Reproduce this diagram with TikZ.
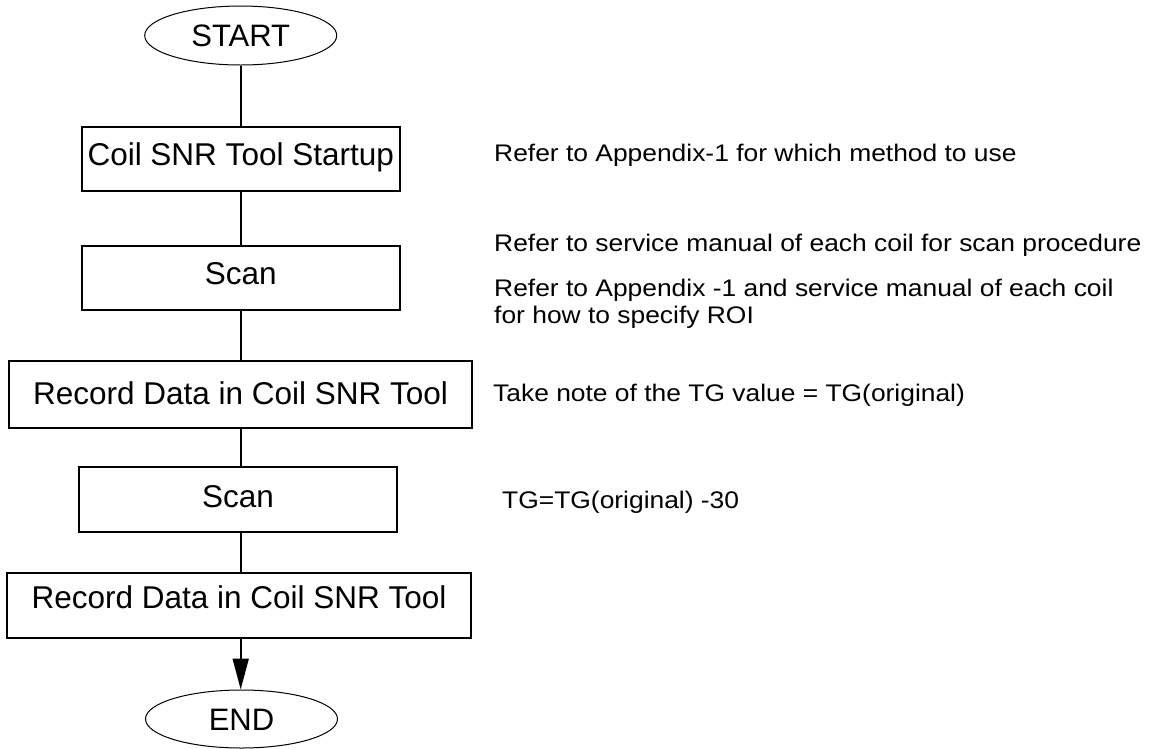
\documentclass[tikz,border=0pt]{standalone}
\usepackage{fontspec}
\setmainfont{Liberation Sans}
\usepackage{graphicx}
\usetikzlibrary{shapes.geometric,arrows.meta}
\newcommand{\hsc}[1]{\scalebox{1.1}[1]{#1}}
\begin{document}
\begin{tikzpicture}[x=1pt,y=-1pt,
  box/.style={draw, line width=1.8pt, inner sep=0pt,
    font=\fontsize{31.5}{36}\selectfont, text height=22pt, text depth=10pt},
  term/.style={ellipse, draw, line width=1pt, inner sep=0pt,
    font=\fontsize{31}{36}\selectfont, text height=22pt, text depth=0pt,
    minimum width=192pt, minimum height=59pt},
  note/.style={font=\fontsize{24}{26.3}\selectfont, anchor=base west,
    inner sep=0pt, align=left},
  conn/.style={line width=1.8pt}]
\path[use as bounding box] (0,0) rectangle (1156,748);

\node[term] (start) at (240.7,35.5) {START};
\node[box, minimum width=318pt, minimum height=64pt] (b1) at (240.7,159) {Coil SNR Tool Startup};
\node[box, minimum width=318pt, minimum height=64pt] (b2) at (240.7,278) {Scan};
\node[box, minimum width=463pt, minimum height=67pt, text depth=3pt] (b3) at (240.5,394.5) {Record Data in Coil SNR Tool};
\node[box, minimum width=318pt, minimum height=65pt, text depth=7pt] (b4) at (238,499.5) {Scan};
\node[box, minimum width=464pt, minimum height=65pt, text depth=16pt] (b5) at (239,605.5) {Record Data in Coil SNR Tool};
\node[term, minimum height=58pt] (end) at (241.5,719) {END};

\draw[conn] (start.south) -- (b1.north);
\draw[conn] (b1.south) -- (b2.north);
\draw[conn] (b2.south) -- (b2.south |- b3.north);
\draw[conn] (b2.south |- b3.south) -- (b2.south |- b4.north);
\draw[conn] (b2.south |- b4.south) -- (b2.south |- b5.north);
\draw[conn, -{Triangle[length=31pt,width=16pt]}] (b2.south |- b5.south) -- (b2.south |- end.north);

\node[note] (n1) at (494,161) {\hsc{Refer to Appendix-1 for which method to use}};
\node[note] (n2) at (494,251) {\hsc{Refer to service manual of each coil for scan procedure}};
\node[note] (n3) at (494,323) {\hsc{Refer to Appendix -1 and service manual of each coil}\\\hsc{for how to specify ROI}};
\node[note] (n4) at (493,401.7) {\hsc{Take note of the TG value = TG(original)}};
\node[note] (n5) at (502,508) {\hsc{TG=TG(original) -30}};
\end{tikzpicture}
\end{document}
